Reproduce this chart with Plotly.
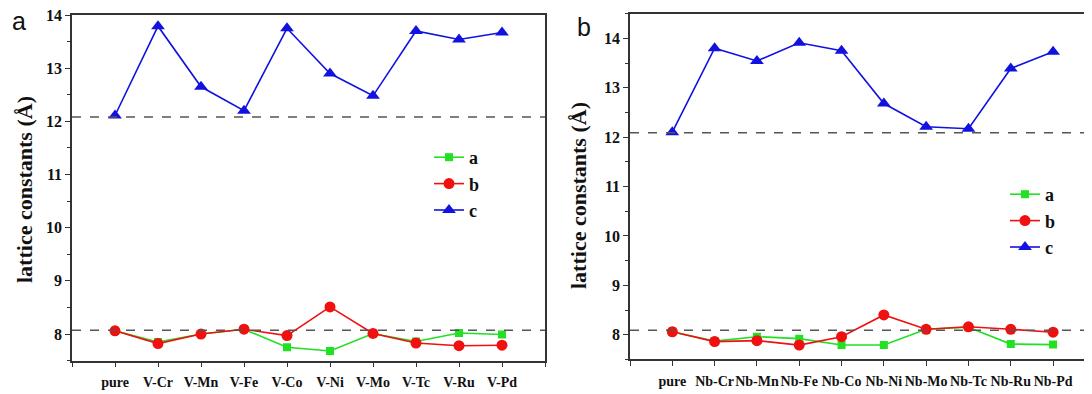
import plotly.graph_objects as go

# ---------------- data ----------------
cats_v = ["pure", "V-Cr", "V-Mn", "V-Fe", "V-Co", "V-Ni", "V-Mo", "V-Tc", "V-Ru", "V-Pd"]
a_v = [8.06, 7.85, 8.00, 8.09, 7.75, 7.68, 8.01, 7.86, 8.02, 7.99]
b_v = [8.06, 7.82, 8.00, 8.09, 7.97, 8.51, 8.01, 7.83, 7.78, 7.79]
c_v = [12.11, 13.79, 12.65, 12.20, 13.75, 12.90, 12.48, 13.70, 13.54, 13.67]
ref_v = [12.08, 8.07]

cats_nb = ["pure", "Nb-Cr", "Nb-Mn", "Nb-Fe", "Nb-Co", "Nb-Ni", "Nb-Mo", "Nb-Tc", "Nb-Ru", "Nb-Pd"]
a_nb = [8.06, 7.87, 7.96, 7.92, 7.79, 7.79, 8.11, 8.15, 7.81, 7.80]
b_nb = [8.06, 7.86, 7.88, 7.79, 7.96, 8.40, 8.11, 8.16, 8.11, 8.05]
c_nb = [12.10, 13.80, 13.54, 13.91, 13.75, 12.68, 12.21, 12.17, 13.39, 13.73]
ref_nb = [12.09, 8.09]

series_names = ["a", "b", "c"]
colors = ["#22e022", "#f01010", "#1212e0"]
symbols = ["square", "circle", "triangle-up"]
msizes = [8, 11, 12]

FONT = "Liberation Serif"
OFF = 8            # default page body margin
W, H = 1092 - OFF, 394 - OFF

fig = go.Figure()

def add_panel(cats, vals, xa, ya, legend):
    xs = list(range(len(cats)))
    for name, v, col, sym, ms in zip(series_names, vals, colors, symbols, msizes):
        fig.add_trace(go.Scatter(
            x=xs, y=v, name=name, mode="lines+markers",
            line=dict(color=col, width=1.6),
            marker=dict(symbol=sym, size=ms, color=col, line=dict(width=0)),
            xaxis=xa, yaxis=ya, legend=legend,
        ))

add_panel(cats_v, [a_v, b_v, c_v], "x", "y", "legend")
add_panel(cats_nb, [a_nb, b_nb, c_nb], "x2", "y2", "legend2")

# reference dashed lines
for val in ref_v:
    fig.add_shape(type="line", xref="x domain", yref="y", x0=0, x1=1, y0=val, y1=val,
                  line=dict(color="#555555", width=1.5, dash="dash"))
for val in ref_nb:
    fig.add_shape(type="line", xref="x2 domain", yref="y2", x0=0, x1=1, y0=val, y1=val,
                  line=dict(color="#555555", width=1.5, dash="dash"))

def px_x(p):
    return (p - OFF) / W

def px_y(p):
    return 1 - (p - OFF) / H

tickfont = dict(family=FONT, size=16, color="#111111", weight="bold")
xtickfont = dict(family=FONT, size=14, color="#111111", weight="bold")

def xaxis_cfg(cats, domain, rng):
    tv = list(range(-1, len(cats) + 1))
    tt = [""] + cats + [""]
    return dict(domain=domain, range=rng, tickmode="array", tickvals=tv, ticktext=tt,
                ticks="outside", ticklen=5, tickwidth=1.3, tickcolor="#333333",
                showline=True, linecolor="#333333", linewidth=1.5, mirror=True,
                showgrid=False, zeroline=False, tickfont=xtickfont, ticklabelstandoff=3,
                tickangle=0, automargin=False, ticklabeloverflow="allow")

def yaxis_cfg(domain, rng, anchor, mirror):
    return dict(domain=domain, range=rng, anchor=anchor, dtick=1, tick0=0,
                ticks="outside", ticklen=5, tickwidth=1.3, tickcolor="#333333",
                minor=dict(dtick=0.5, ticks="outside", ticklen=3, tickcolor="#333333", tickwidth=1.2),
                showline=True, linecolor="#333333", linewidth=1.5, mirror=mirror,
                showgrid=False, zeroline=False, tickfont=tickfont, automargin=False,
                ticklabeloverflow="allow")

legfont = dict(family=FONT, size=18, color="#111111", weight="bold")

fig.update_layout(
    width=W, height=H,
    margin=dict(l=0, r=0, t=0, b=0, autoexpand=False),
    paper_bgcolor="white", plot_bgcolor="white",
    xaxis=dict(anchor="y", **xaxis_cfg(cats_v, [px_x(72), px_x(545)], [-1, 10])),
    yaxis=yaxis_cfg([px_y(360.6), px_y(15)], [7.5, 14], "x", True),
    xaxis2=dict(anchor="y2", **xaxis_cfg(cats_nb, [px_x(630), 1.0], [-1, 9.92])),
    yaxis2=yaxis_cfg([px_y(359.4), px_y(13.6)], [7.5, 14.5], "x2", False),
    legend=dict(x=px_x(429), y=px_y(139), xanchor="left", yanchor="top",
                font=legfont, bgcolor="rgba(0,0,0,0)", tracegroupgap=0),
    legend2=dict(x=px_x(1005), y=px_y(176), xanchor="left", yanchor="top",
                 font=legfont, bgcolor="rgba(0,0,0,0)", tracegroupgap=0),
    showlegend=True,
)

title = "lattice constants (Å)"
titlefont = dict(family=FONT, size=22, color="#111111", weight="bold")
fig.add_annotation(text=title, xref="paper", yref="paper", x=px_x(24), y=px_y(190),
                   xanchor="center", yanchor="middle",
                   showarrow=False, textangle=-90, font=titlefont)
fig.add_annotation(text=title, xref="paper", yref="paper", x=px_x(579), y=px_y(196),
                   xanchor="center", yanchor="middle",
                   showarrow=False, textangle=-90, font=titlefont)
fig.add_annotation(text="a", xref="paper", yref="paper", x=px_x(19), y=px_y(21),
                   xanchor="center", yanchor="middle",
                   showarrow=False, font=dict(family="Liberation Sans", size=25, color="#111111"))
fig.add_annotation(text="b", xref="paper", yref="paper", x=px_x(584), y=px_y(27),
                   xanchor="center", yanchor="middle",
                   showarrow=False, font=dict(family="Liberation Sans", size=25, color="#111111"))

fig.write_html("out.html")
